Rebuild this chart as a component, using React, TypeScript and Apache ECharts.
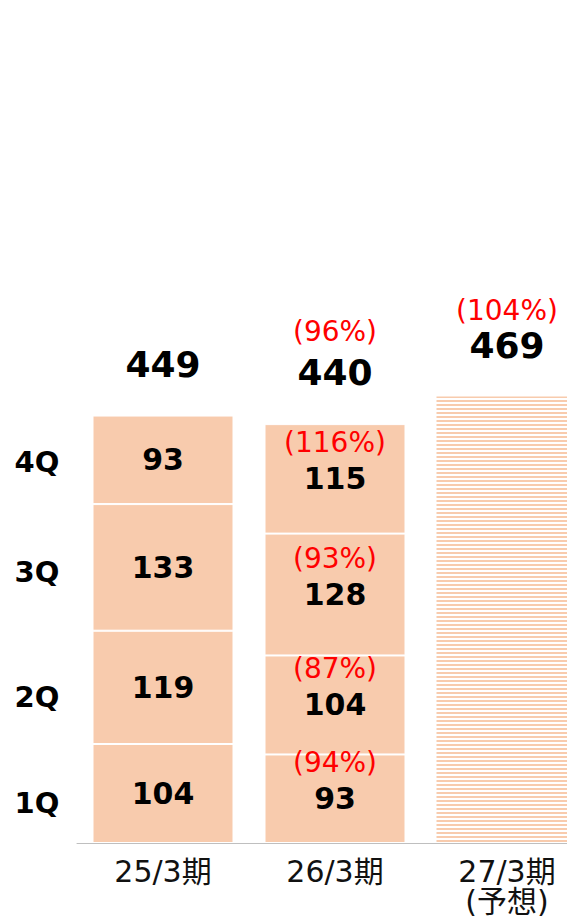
import React, { useEffect, useRef } from 'react';
import * as echarts from 'echarts';

const categories = ['25/3期', '26/3期', '27/3期\n(予想)'];
const quarterNames = ['1Q', '2Q', '3Q', '4Q'];
const q1 = [104, 93, null];
const q2 = [119, 104, null];
const q3 = [133, 128, null];
const q4 = [93, 115, null];
const q1Pct = [null, 94, null];
const q2Pct = [null, 87, null];
const q3Pct = [null, 93, null];
const q4Pct = [null, 116, null];
const forecast = [null, null, 469];
const totals = [449, 440, 469];
const totalPct = [null, 96, 104];

const FONT = "'DejaVu Sans', 'Noto Sans CJK JP', sans-serif";
const FILL = '#F8CBAD';
const RED = '#FF0000';

function makeStripe() {
  const c = document.createElement('canvas');
  c.width = 4;
  c.height = 4;
  const ctx = c.getContext('2d')!;
  ctx.fillStyle = '#FFFFFF';
  ctx.fillRect(0, 0, 4, 4);
  ctx.fillStyle = FILL;
  ctx.fillRect(0, 0, 4, 2);
  return c;
}

export default function App() {
  const ref = useRef<HTMLDivElement>(null);
  useEffect(() => {
    if (!ref.current) return;
    const chart = echarts.init(ref.current, null, { renderer: 'svg' });
    const qVals = [q1, q2, q3, q4];
    const qPcts = [q1Pct, q2Pct, q3Pct, q4Pct];
    const quarterSeries = qVals.map((vals, qi) => ({
      type: 'bar',
      name: quarterNames[qi],
      stack: 'total',
      barWidth: 141,
      itemStyle: { color: FILL, borderColor: '#FFFFFF', borderWidth: 1 },
      data: vals.map((v, i) => {
        if (v == null) return '-';
        const pct = qPcts[qi][i];
        return {
          value: v,
          label: {
            formatter: pct == null ? `{b|${v}}` : `{r|(${pct}%)}\n{b|${v}}`,
            offset: pct == null ? [0, 0] : [0, -18],
          },
        };
      }),
      label: {
        show: true,
        position: 'inside',
        rich: {
          b: { fontFamily: FONT, fontSize: 30, fontWeight: 'bold', color: '#000', lineHeight: 36 },
          r: { fontFamily: FONT, fontSize: 28, color: RED, lineHeight: 36 },
        },
      },
    }));
    const forecastSeries = {
      type: 'bar',
      name: '予想',
      stack: 'total',
      barWidth: 141,
      itemStyle: {
        color: { image: makeStripe(), repeat: 'repeat', imageWidth: 4, imageHeight: 4 },
      },
      data: forecast.map((v) => (v == null ? '-' : v)),
    };
    const totalSeries = {
      type: 'scatter',
      name: 'total',
      symbol: 'circle',
      symbolSize: 1,
      itemStyle: { color: 'rgba(0,0,0,0)', opacity: 1 },
      z: 10,
      data: totals.map((v, i) => {
        const pct = totalPct[i];
        return {
          value: v,
          label: {
            formatter: pct == null ? `{b|${v}}` : `{${i === 1 ? 'rA' : 'rB'}|(${pct}%)}\n{b|${v}}`,
          },
        };
      }),
      label: {
        show: true,
        position: 'top',
        distance: 31,
        color: '#000',
        opacity: 1,
        rich: {
          b: { fontFamily: FONT, fontSize: 36, fontWeight: 'bold', color: '#000', lineHeight: 40 },
          rA: { fontFamily: FONT, fontSize: 28, color: RED, lineHeight: 43 },
          rB: { fontFamily: FONT, fontSize: 28, color: RED, lineHeight: 30 },
        },
      },
    };
    const qLabelY = [803, 697, 572, 462];
    chart.setOption({
      animation: false,
      grid: { left: 77, right: 0, top: 367, bottom: 76 },
      xAxis: {
        type: 'category',
        data: categories,
        axisLine: { lineStyle: { color: '#BFBFBF', width: 1 } },
        axisTick: { show: false },
        axisLabel: {
          fontFamily: FONT,
          fontSize: 30,
          color: '#111',
          margin: 13,
          lineHeight: 30,
        },
      },
      yAxis: { type: 'value', min: 0, max: 500, show: false },
      series: [...quarterSeries, forecastSeries, totalSeries],
      graphic: quarterNames.map((q, i) => ({
        type: 'text',
        x: 37,
        y: qLabelY[i],
        style: {
          text: q,
          fontFamily: FONT,
          fontSize: 29,
          fontWeight: 'bold',
          fill: '#000',
          align: 'center',
          verticalAlign: 'middle',
        },
      })),
    });
    return () => chart.dispose();
  }, []);
  return (
    <div style={{ position: 'absolute', left: 0, top: 0, width: 567, height: 919, overflow: 'hidden', background: '#fff' }}>
      <div ref={ref} style={{ width: 593, height: 919 }} />
    </div>
  );
}
